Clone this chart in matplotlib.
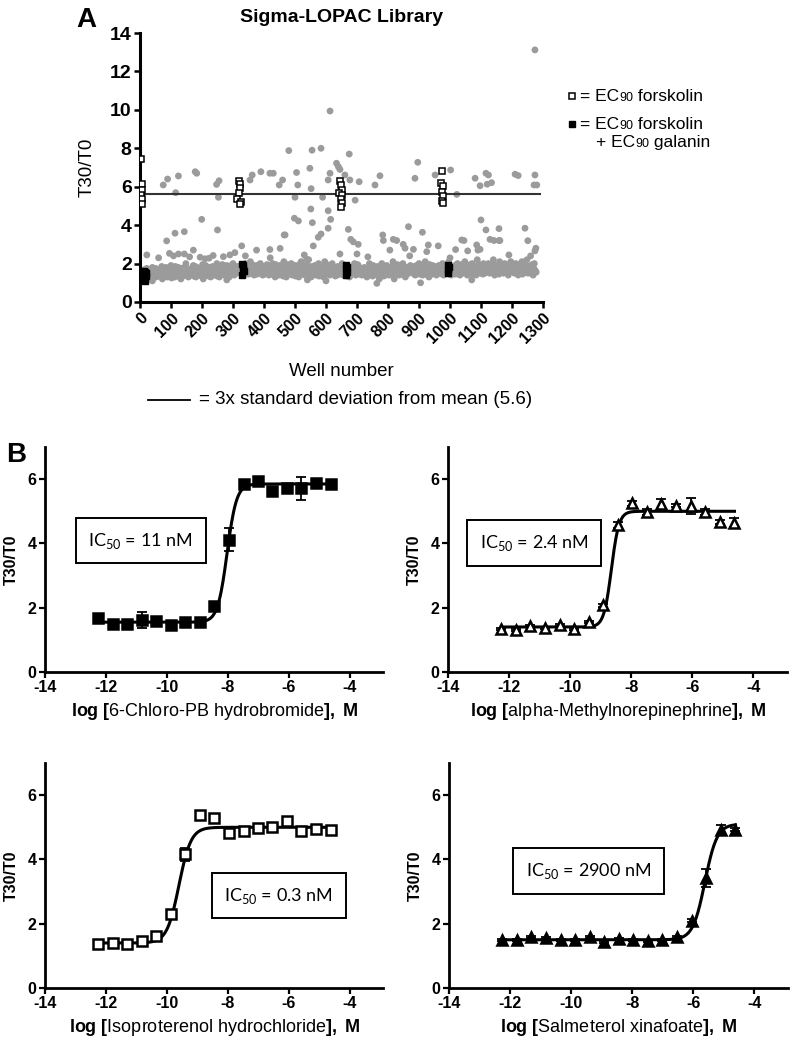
import numpy as np
import matplotlib
matplotlib.use('Agg')
import matplotlib.pyplot as plt
from matplotlib.lines import Line2D

plt.rcParams['font.family'] = ['Liberation Sans', 'DejaVu Sans']
plt.rcParams['axes.unicode_minus'] = False
plt.rcParams['mathtext.fontset'] = 'custom'
plt.rcParams['mathtext.rm'] = 'Liberation Sans'
plt.rcParams['mathtext.bf'] = 'Liberation Sans:bold'
plt.rcParams['mathtext.it'] = 'Liberation Sans:italic'

# ---------------- panel A data ----------------
threshold = 5.6
# dense band of library wells (one value every 4 wells, two interleaved runs)
band_vals = [
    1.6, 1.4, 1.5, 1.3, 1.7, 1.5, 1.4, 1.6, 1.2, 1.5, 1.8, 1.4, 1.5, 1.3, 1.6, 1.5, 1.7, 1.4, 1.2, 1.6,
    1.5, 1.8, 1.3, 1.6, 1.4, 1.9, 1.5, 1.7, 1.3, 1.6, 1.4, 1.8, 1.5, 1.2, 1.7, 1.6, 1.4, 2.0, 1.5, 1.3,
    1.7, 1.5, 1.4, 1.9, 1.6, 1.3, 1.8, 1.5, 1.4, 1.7, 1.6, 1.2, 1.5, 1.9, 1.4, 1.6, 1.8, 1.3, 1.5, 1.7,
    1.4, 1.6, 2.0, 1.5, 1.3, 1.7, 1.5, 1.8, 1.4, 1.6, 1.9, 1.5, 1.3, 1.7, 1.6, 2.0, 1.4, 1.8, 1.5, 1.6,
    1.7, 1.9, 1.5, 1.8, 1.4, 2.0, 1.6, 1.7, 1.5, 2.1, 1.6, 1.8, 1.4, 1.7, 1.9, 1.5, 1.6, 2.0, 1.7, 1.4,
    1.6, 1.8, 1.5, 1.9, 1.4, 1.7, 1.6, 2.0, 1.5, 1.3, 1.8, 1.6, 1.4, 1.9, 1.7, 1.5, 2.1, 1.6, 1.3, 1.8,
    1.5, 1.7, 2.0, 1.4, 1.6, 1.9, 1.5, 1.8, 1.3, 1.6, 2.1, 1.5, 1.7, 1.4, 1.8, 1.6, 2.2, 1.5, 1.3, 1.7,
    1.6, 1.9, 1.4, 1.7, 2.0, 1.5, 1.8, 1.6, 1.3, 2.1, 1.7, 1.5, 1.9, 1.4, 1.6, 2.0, 1.5, 1.8, 1.7, 1.4,
    1.5, 1.8, 1.6, 2.0, 1.4, 1.7, 1.5, 1.9, 1.6, 1.3, 1.8, 1.5, 1.7, 2.0, 1.4, 1.6, 1.9, 1.5, 1.7, 1.4,
    1.6, 1.8, 1.5, 1.3, 1.7, 2.0, 1.5, 1.6, 1.9, 1.4, 1.7, 1.5, 1.8, 1.2, 1.6, 2.0, 1.5, 1.7, 1.4, 1.9,
    1.6, 1.4, 1.8, 1.5, 2.1, 1.7, 1.5, 1.6, 1.9, 1.4, 1.7, 1.5, 2.0, 1.6, 1.3, 1.8, 1.5, 1.7, 1.9, 1.6,
    1.5, 1.7, 1.4, 1.9, 1.6, 2.0, 1.5, 1.8, 1.4, 1.6, 2.1, 1.5, 1.7, 1.3, 1.8, 1.6, 1.9, 1.5, 1.7, 1.4,
    1.6, 1.9, 1.5, 1.7, 2.0, 1.4, 1.8, 1.6, 1.5, 2.1, 1.7, 1.4, 1.8, 1.6, 1.9, 1.5, 2.0, 1.7, 1.4, 1.6,
    1.8, 1.5, 2.1, 1.6, 1.4, 1.9, 1.7, 1.5, 2.0, 1.6, 1.8, 1.4, 2.2, 1.7, 1.5, 1.9, 1.6, 2.0, 1.5, 1.7,
    1.6, 2.0, 1.5, 1.8, 1.7, 2.2, 1.4, 1.9, 1.6, 1.5, 2.1, 1.7, 1.8, 1.5, 2.0, 1.6, 1.9, 1.4, 1.7, 2.1,
    1.6, 1.8, 1.5, 2.0, 1.7, 1.4, 1.9, 1.6, 2.1, 1.5, 1.8, 1.7, 2.2, 1.5, 1.6, 1.9, 1.7, 1.4, 2.0, 1.6,
]
band_vals2 = [
    1.45, 1.65, 1.35, 1.55, 1.25, 1.75, 1.55, 1.35, 1.65, 1.45, 1.25, 1.55, 1.75, 1.45, 1.35, 1.65, 1.55, 1.85, 1.45, 1.35,
    1.65, 1.35, 1.75, 1.45, 1.55, 1.25, 1.65, 1.45, 1.85, 1.55, 1.35, 1.65, 1.45, 1.75, 1.35, 1.55, 1.85, 1.45, 1.65, 1.55,
    1.45, 1.75, 1.55, 1.35, 1.85, 1.65, 1.45, 1.75, 1.55, 1.35, 1.95, 1.65, 1.45, 1.55, 1.75, 1.35, 1.65, 1.55, 1.85, 1.45,
    1.75, 1.55, 1.35, 1.85, 1.65, 1.45, 1.95, 1.55, 1.75, 1.45, 1.65, 1.85, 1.55, 1.45, 1.95, 1.65, 1.75, 1.55, 1.85, 1.65,
    1.85, 1.55, 1.75, 1.95, 1.65, 1.55, 1.85, 1.45, 1.75, 1.65, 1.95, 1.55, 1.85, 1.65, 1.45, 1.75, 1.95, 1.55, 1.65, 1.85,
    1.45, 1.75, 1.95, 1.55, 1.65, 1.85, 1.45, 1.75, 1.65, 1.95, 1.55, 1.45, 1.75, 1.65, 1.85, 1.35, 1.65, 1.75, 1.95, 1.55,
    1.75, 1.45, 1.65, 1.85, 1.55, 1.35, 1.75, 1.65, 1.95, 1.55, 1.45, 1.85, 1.65, 1.55, 1.95, 1.45, 1.75, 1.65, 1.85, 1.55,
    1.45, 1.65, 1.85, 1.55, 1.35, 1.75, 1.65, 1.45, 1.85, 1.55, 1.95, 1.65, 1.45, 1.75, 1.85, 1.55, 1.65, 1.35, 1.55, 1.85,
    1.65, 1.45, 1.75, 1.55, 1.85, 1.65, 1.35, 1.65, 1.75, 1.55, 1.45, 1.85, 1.65, 1.55, 1.75, 1.95, 1.45, 1.65, 1.55, 1.75,
    1.45, 1.65, 1.75, 1.55, 1.45, 1.85, 1.65, 1.35, 1.75, 1.55, 1.65, 1.85, 1.45, 1.55, 1.75, 1.65, 1.35, 1.85, 1.55, 1.65,
    1.75, 1.55, 1.65, 1.85, 1.45, 1.65, 1.75, 1.95, 1.55, 1.65, 1.45, 1.75, 1.85, 1.55, 1.65, 1.45, 1.75, 1.65, 1.55, 1.85,
    1.65, 1.45, 1.85, 1.55, 1.75, 1.45, 1.65, 1.55, 1.85, 1.75, 1.45, 1.65, 1.55, 1.95, 1.65, 1.45, 1.75, 1.85, 1.55, 1.65,
    1.75, 1.55, 1.85, 1.45, 1.65, 1.75, 1.55, 1.95, 1.65, 1.45, 1.85, 1.65, 1.55, 1.75, 1.45, 1.85, 1.65, 1.55, 1.75, 1.95,
    1.55, 1.75, 1.65, 1.85, 1.55, 1.75, 1.95, 1.65, 1.45, 1.85, 1.55, 1.75, 1.65, 1.95, 1.55, 1.85, 1.45, 1.75, 1.65, 1.85,
    1.75, 1.55, 1.85, 1.65, 1.95, 1.55, 1.75, 1.65, 1.85, 1.45, 1.75, 1.95, 1.55, 1.65, 1.85, 1.75, 1.55, 1.95, 1.65, 1.75,
    1.85, 1.55, 1.75, 1.65, 1.95, 1.55, 1.85, 1.75, 1.45, 1.65, 1.95, 1.55, 1.75, 1.85, 1.65, 1.55, 1.95, 1.75, 1.65, 1.55,
]
band_wells = np.arange(0, 4 * len(band_vals), 4)
band_wells2 = np.arange(2, 4 * len(band_vals2) + 2, 4)

# scattered wells above / below the band
out_wells = [22, 75, 89, 124, 178, 183, 115, 247, 255, 253, 199, 86, 113, 143, 250,
             95, 124, 143, 108, 172, 194, 223, 236, 269, 290, 306, 328, 355, 362, 390,
             419, 376, 419, 430, 449, 460, 465, 480, 505, 509, 500, 498, 511, 548, 552,
             555, 551, 556, 584, 589, 575, 584, 559, 613, 607, 613, 607, 615, 607, 634,
             640, 645, 675, 661, 677, 694, 707, 672, 680, 688, 704, 758, 774, 783, 785,
             896, 887, 952, 1002, 1022, 1081, 1097, 1116, 1124, 1134, 1120, 1210, 1220, 1274, 1271,
             1280, 1274, 1100, 1116, 1158, 1242, 866, 911, 1251, 817, 849, 882, 930, 962, 1038,
             1045, 1086, 1097, 1129, 1142, 1158, 1277, 1274, 905, 828, 764, 540, 468, 452, 538,
             645, 806, 855, 925, 1018, 1057, 1090, 1161, 60, 160, 210, 340, 420, 530, 700,
             735, 870, 1000, 1190, 1260, 40, 280, 600, 820, 1070]
out_vals = [2.45, 6.09, 6.4, 6.56, 6.78, 6.7, 5.69, 6.12, 6.31, 5.45, 4.3, 3.18, 3.58, 3.66, 3.75,
            2.53, 2.5, 2.5, 2.4, 2.7, 2.33, 2.28, 2.42, 2.36, 2.45, 2.57, 2.92, 6.35, 6.61, 6.78,
            6.7, 2.7, 2.73, 6.7, 6.09, 6.35, 3.49, 7.88, 6.74, 6.09, 5.45, 4.36, 4.22, 6.96, 5.9,
            7.9, 4.84, 4.13, 8.0, 5.45, 3.37, 3.54, 2.92, 9.94, 6.35, 6.7, 4.75, 4.3, 3.84, 7.22,
            7.04, 6.9, 7.7, 6.61, 6.35, 5.3, 6.26, 3.78, 3.26, 3.13, 3.0, 6.09, 6.57, 3.49, 3.2,
            7.27, 6.44, 6.61, 6.87, 5.6, 6.44, 6.05, 6.7, 6.61, 6.21, 6.13, 6.65, 6.58, 6.61, 6.09,
            6.09, 13.12, 4.27, 3.75, 3.82, 3.84, 3.92, 3.63, 3.19, 3.26, 3.0, 2.74, 2.97, 2.92, 3.23,
            3.2, 2.97, 2.74, 3.26, 3.2, 3.2, 2.8, 2.66, 1.0, 3.2, 0.97, 1.15, 3.49, 2.79, 2.22,
            2.5, 2.7, 2.8, 2.62, 2.73, 2.66, 2.7, 3.2, 2.3, 2.35, 2.25, 2.4, 2.3, 2.45, 2.5,
            2.35, 2.4, 2.3, 2.45, 2.4, 1.1, 1.15, 1.1, 1.2, 1.15]

# EC90 forskolin control wells (open squares)
fsk_wells = [4, 5, 3, 6, 4, 5, 6,
             318, 322, 324, 320, 312, 326, 322,
             645, 648, 650, 643, 652, 647, 650, 648,
             975, 972, 978, 974, 976, 973, 977]
fsk_vals = [7.43, 6.13, 5.69, 5.85, 5.57, 5.35, 5.1,
            6.3, 6.13, 5.92, 5.66, 5.35, 5.22, 5.09,
            6.3, 6.09, 5.83, 5.69, 5.57, 5.35, 5.17, 4.96,
            6.82, 6.18, 6.04, 5.74, 5.52, 5.27, 5.14]
# EC90 forskolin + EC90 galanin control wells (filled squares)
gal_wells = [14, 18, 16, 20, 17, 15,
             330, 333, 331, 334, 329,
             664, 667, 665, 668, 663,
             994, 997, 995, 993]
gal_vals = [1.6, 1.5, 1.45, 1.35, 1.1, 1.55,
            2.0, 1.9, 1.75, 1.6, 1.4,
            1.95, 1.8, 1.7, 1.55, 1.4,
            1.95, 1.8, 1.65, 1.5]

# ---------------- panel B data ----------------
conc = [-12.25, -11.77, -11.30, -10.82, -10.34, -9.87, -9.39, -8.91, -8.44,
        -7.96, -7.48, -7.01, -6.53, -6.05, -5.58, -5.10, -4.62]

chloro_y = [1.68, 1.49, 1.49, 1.62, 1.6, 1.47, 1.55, 1.55, 2.04,
            4.12, 5.84, 5.95, 5.63, 5.71, 5.71, 5.87, 5.84]
chloro_err = [0.03, 0.03, 0.03, 0.25, 0.03, 0.03, 0.03, 0.03, 0.08,
              0.35, 0.08, 0.03, 0.05, 0.05, 0.35, 0.05, 0.12]
chloro_fit = [1.55, 5.85, -8.02, 2.8]   # bottom, top, logIC50, hill

amne_y = [1.35, 1.3, 1.42, 1.37, 1.45, 1.35, 1.57, 2.08, 4.58,
          5.25, 4.98, 5.22, 5.17, 5.17, 4.98, 4.67, 4.65]
amne_err = [0.03, 0.03, 0.03, 0.03, 0.03, 0.03, 0.03, 0.05, 0.1,
            0.08, 0.1, 0.15, 0.05, 0.25, 0.1, 0.05, 0.15]
amne_fit = [1.4, 5.0, -8.65, 3.5]

iso_y = [1.375, 1.39, 1.375, 1.45, 1.63, 2.3, 4.16, 5.39, 5.28,
         4.83, 4.88, 4.97, 5.02, 5.2, 4.88, 4.94, 4.92]
iso_err = [0.03, 0.03, 0.03, 0.03, 0.03, 0.03, 0.2, 0.03, 0.03,
           0.03, 0.03, 0.05, 0.05, 0.05, 0.03, 0.03, 0.03]
iso_fit = [1.4, 5.0, -9.6, 2.2]

salm_y = [1.48, 1.48, 1.6, 1.55, 1.5, 1.5, 1.58, 1.43, 1.52,
          1.5, 1.46, 1.5, 1.58, 2.09, 3.43, 4.92, 4.92]
salm_err = [0.03, 0.03, 0.03, 0.03, 0.03, 0.03, 0.03, 0.03, 0.03,
            0.03, 0.03, 0.03, 0.03, 0.05, 0.28, 0.15, 0.05]
salm_fit = [1.5, 5.1, -5.62, 2.2]


def sigmoid(x, bottom, top, logic50, hill):
    return bottom + (top - bottom) / (1 + 10 ** ((logic50 - x) * hill))


W, H = 792, 1042
fig = plt.figure(figsize=(W / 100, H / 100), dpi=100)
renderer = fig.canvas.get_renderer()


def piece_text(x, y, parts):
    # write text pieces one after another on a common baseline (x, y in pixels from top-left)
    px = x
    for s, size in parts:
        t = fig.text(px / W, 1 - y / H, s, fontsize=size, va='baseline', ha='left')
        px += t.get_window_extent(renderer).width


# ---------------- panel A ----------------
axA = fig.add_axes([140 / W, 1 - 302 / H, 403 / W, 269 / H])
grey = '#9b9b9b'
axA.scatter(band_wells, band_vals, s=24, color=grey, edgecolors='none', zorder=2)
axA.scatter(band_wells2, band_vals2, s=24, color=grey, edgecolors='none', zorder=2)
axA.scatter(out_wells, out_vals, s=24, color=grey, edgecolors='none', zorder=2)
axA.axhline(threshold, xmax=0.993, color='#333333', lw=1.5, zorder=3)
axA.plot(fsk_wells, fsk_vals, ls='none', marker='s', ms=4, mfc='white', mec='black', mew=1.1, zorder=4)
axA.plot(gal_wells, gal_vals, ls='none', marker='s', ms=5, mfc='black', mec='black', zorder=4)
axA.set_xlim(0, 1300)
axA.set_ylim(0, 14)
xt = list(range(0, 1301, 100))
axA.set_xticks(xt, labels=[str(v) for v in xt], rotation=45, ha='right', va='top',
               rotation_mode='anchor', fontweight='bold', fontsize=11.5)
yt = list(range(0, 15, 2))
axA.set_yticks(yt, labels=[str(v) for v in yt], fontweight='bold', fontsize=14)
for side in ['top', 'right']:
    axA.spines[side].set_visible(False)
for side in ['left', 'bottom']:
    axA.spines[side].set_linewidth(2.2)
axA.tick_params(direction='out', length=4, width=1.8, pad=2)
axA.set_ylabel('T30/T0', fontsize=13.5, labelpad=10)
axA.set_xlabel('Well number', fontsize=13.5, labelpad=12)
axA.set_title('Sigma-LOPAC Library', fontsize=14, fontweight='bold', pad=8)
fig.text(76 / W, 1 - 27 / H, 'A', fontsize=20, fontweight='bold')

# legend for controls
fig.add_artist(Line2D([572 / W], [1 - 96 / H], marker='s', ms=4, mfc='white', mec='black',
                      mew=1.1, transform=fig.transFigure))
fig.add_artist(Line2D([572 / W], [1 - 124 / H], marker='s', ms=4.5, mfc='black', mec='black',
                      transform=fig.transFigure))
piece_text(580, 101, [('= EC', 12.5), ('90', 9), (' forskolin', 12.5)])
piece_text(580, 129, [('= EC', 12.5), ('90', 9), (' forskolin', 12.5)])
piece_text(596, 147, [('+ EC', 12.5), ('90', 9), (' galanin', 12.5)])

# threshold key
fig.add_artist(Line2D([148 / W, 190 / W], [1 - 400 / H, 1 - 400 / H], color='black', lw=1.3,
                      transform=fig.transFigure))
fig.text(199 / W, 1 - 400 / H, '= 3x standard deviation from mean (5.6)', fontsize=13.5, va='center')

# ---------------- panel B ----------------
fig.text(6 / W, 1 - 462 / H, 'B', fontsize=20, fontweight='bold')


def dose_panel(rect, y, err, fit, marker, filled, name, ic50, box_xy):
    ax = fig.add_axes(rect)
    xs = np.linspace(conc[0], conc[-1], 400)
    ax.plot(xs, sigmoid(xs, *fit), color='black', lw=2.2, zorder=2)
    ax.errorbar(conc, y, yerr=err, fmt='none', ecolor='black', elinewidth=1.3,
                capsize=3.5, capthick=1.3, zorder=3)
    ax.plot(conc, y, ls='none', marker=marker, ms=7 if filled else 6.5,
            mfc='black' if filled else 'white', mec='black', mew=1.8, zorder=4)
    ax.set_xlim(-14, -2.9)
    ax.set_ylim(0, 7)
    xticks = [-14, -12, -10, -8, -6, -4]
    ax.set_xticks(xticks, labels=[str(v) for v in xticks], fontweight='bold', fontsize=11.5)
    ax.set_yticks([0, 2, 4, 6], labels=['0', '2', '4', '6'], fontweight='bold', fontsize=11.5)
    for side in ['top', 'right']:
        ax.spines[side].set_visible(False)
    for side in ['left', 'bottom']:
        ax.spines[side].set_linewidth(2.0)
    ax.tick_params(direction='out', length=4, width=1.6, pad=2)
    ax.set_ylabel('T30/T0', fontsize=11.5, fontweight='bold', labelpad=6)
    ax.set_xlabel(r'$\mathbf{log\ [}$' + name + r'$\mathbf{],\ M}$', fontsize=13, labelpad=4)
    ax.text(box_xy[0], box_xy[1], r'IC$_{\mathregular{50}}$ = ' + ic50, transform=ax.transAxes,
            ha='center', va='center', fontsize=13, family='Lato',
            bbox=dict(boxstyle='square,pad=0.7', fc='white', ec='black', lw=1.4))
    return ax


dose_panel([45 / W, 1 - 672 / H, 338 / W, 225 / H], chloro_y, chloro_err, chloro_fit, 's', True,
           '6-Chloro-PB hydrobromide', '11 nM', (0.283, 0.584))
dose_panel([448 / W, 1 - 672 / H, 339 / W, 225 / H], amne_y, amne_err, amne_fit, '^', False,
           'alpha-Methylnorepinephrine', '2.4 nM', (0.255, 0.573))
dose_panel([45 / W, 1 - 988 / H, 338 / W, 225 / H], iso_y, iso_err, iso_fit, 's', False,
           'Isoproterenol hydrochloride', '0.3 nM', (0.691, 0.411))
dose_panel([449 / W, 1 - 988 / H, 339 / W, 225 / H], salm_y, salm_err, salm_fit, '^', True,
           'Salmeterol xinafoate', '2900 nM', (0.411, 0.52))

fig.savefig('out.png', dpi=100)
